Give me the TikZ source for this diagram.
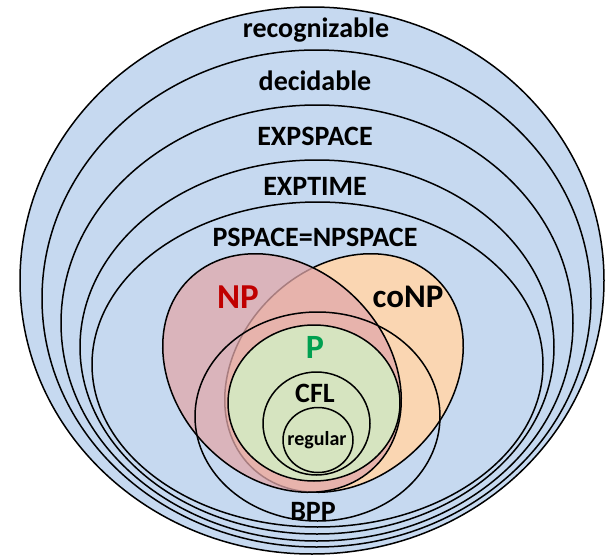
\documentclass[tikz,border=0pt]{standalone}
\usepackage{fontspec}
\setmainfont{Carlito}
\definecolor{bluef}{RGB}{198,217,240}
\definecolor{pinkf}{RGB}{225,168,170}
\definecolor{orangef}{RGB}{250,214,178}
\definecolor{greenf}{RGB}{214,228,192}
\definecolor{npred}{RGB}{192,0,0}
\definecolor{pgreen}{RGB}{0,160,80}
\begin{document}
\begin{tikzpicture}[x=1pt,y=-1pt,
  ring/.style={fill=bluef,draw=black,line width=1.5pt},
  outl/.style={draw=black,line width=1.5pt},
  lab/.style={font=\fontsize{28}{28}\selectfont\bfseries,inner sep=0pt,anchor=center}]
\useasboundingbox (0,0) rectangle (606,557);
% nested classes
\path[ring] (312,280.5) ellipse [x radius=292pt,y radius=273.5pt];
\path[ring] (316.5,298.5) ellipse [x radius=274.5pt,y radius=248.5pt];
\path[ring] (317,323) ellipse [x radius=256pt,y radius=218pt];
\path[ring] (317,347) ellipse [x radius=237pt,y radius=187pt];
\path[ring] (317.5,364.5) ellipse [x radius=225.5pt,y radius=162.5pt];
% coNP and NP
\path[outl,fill=orangef,rotate around={45:(344,373)}] (344,373) ellipse [x radius=132pt,y radius=105pt];
\path[outl,fill=pinkf,fill opacity=0.75,rotate around={-45:(282,373)}] (282,373) ellipse [x radius=132pt,y radius=105pt];
% BPP
\path[outl] (317.5,416.5) ellipse [x radius=122.5pt,y radius=104.5pt];
% P, CFL, regular
\path[outl,fill=greenf] (314,403) ellipse [x radius=86pt,y radius=78pt];
\path[outl,fill=greenf] (316.5,423.5) ellipse [x radius=53.5pt,y radius=51.5pt];
\path[outl] (318,440) ellipse [x radius=35pt,y radius=32.5pt];
% labels
\node[lab] (rec) at (316,30) {recognizable};
\node[lab] (dec) at (315,81) {decidable};
\node[lab] (exps) at (315,136) {EXPSPACE};
\node[lab] (expt) at (315,186) {EXPTIME};
\node[lab] (pspace) at (315,237) {PSPACE=NPSPACE};
\node[lab,font=\fontsize{35}{35}\selectfont\bfseries,text=npred] (np) at (238,297) {NP};
\node[lab,font=\fontsize{33}{33}\selectfont\bfseries] (conp) at (408,297) {coNP};
\node[lab,font=\fontsize{34}{34}\selectfont\bfseries,text=pgreen] (p) at (315,347) {P};
\node[lab] (cfl) at (315,393) {CFL};
\node[lab,font=\fontsize{20}{20}\selectfont\bfseries] (reg) at (317,440) {regular};
\node[lab] (bpp) at (313,511) {BPP};
\end{tikzpicture}
\end{document}
